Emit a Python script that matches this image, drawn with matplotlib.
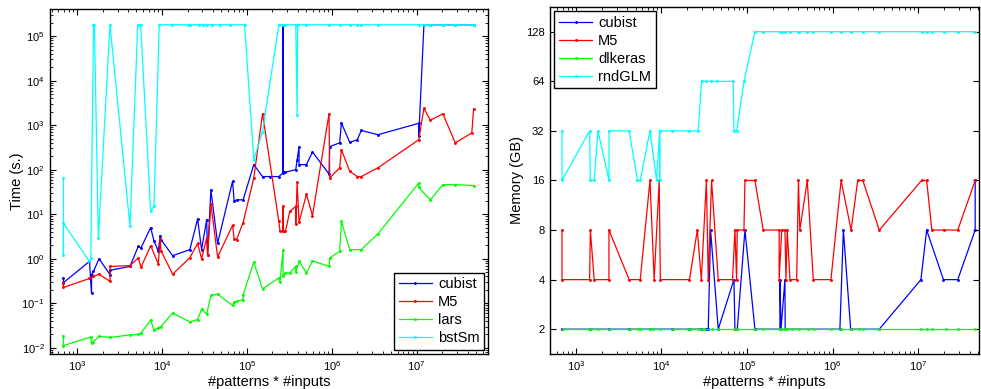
import matplotlib
matplotlib.use("Agg")
import matplotlib.pyplot as plt
from matplotlib.ticker import NullLocator, NullFormatter, FixedLocator, FixedFormatter

plt.rcParams['font.family'] = ['Liberation Sans', 'DejaVu Sans']

# ---- left panel: training time (s.) vs #patterns * #inputs ----
cub_t_x = [690, 690, 1400, 1480, 1480, 1560, 1815, 2440, 2440, 4200,
           5260, 5660, 7360, 8050, 9040, 9550, 9730, 13360, 21300, 26300,
           29300, 33600, 34500, 37700, 45200, 67900, 70900, 75700, 90400, 120700,
           153000, 186000, 238000, 267000, 267000, 267000, 285000, 377000, 391000, 412000,
           412000, 504000, 593000, 929000, 947000, 1.24e6, 1.30e6, 1.63e6, 2.0e6, 2.23e6,
           3.5e6, 1.06e7, 1.06e7, 1.22e7, 1.45e7, 2.04e7, 2.85e7, 4.69e7]
cub_t_y = [0.37, 0.29, 0.87, 0.17, 0.44, 0.52, 1.0, 0.44, 0.55, 0.67,
           1.9, 1.75, 5.0, 2.5, 1.5, 3.3, 2.7, 1.17, 1.6, 7.8,
           1.6, 7.5, 1.2, 35, 2.2, 55, 19.5, 21, 21, 130,
           70, 70, 70, 85, 1.8e5, 90, 88, 100, 167, 320,
           130, 130, 250, 80, 330, 400, 1120, 410, 470, 760,
           610, 1100, 560, 1.8e5, 1.8e5, 1.8e5, 1.8e5, 1.8e5]

m5_t_x = [690, 690, 1400, 1560, 1815, 2440, 2440, 4200, 5260, 5660,
          7360, 9040, 9550, 9730, 13360, 21300, 26300, 29300, 33600, 34500,
          37700, 45200, 67900, 70900, 75700, 90400, 120700, 153000, 238000, 246000,
          267000, 267000, 267000, 285000, 320000, 377000, 377000, 391000, 412000, 504000,
          593000, 929000, 947000, 1.24e6, 1.30e6, 1.63e6, 2.0e6, 2.23e6, 3.5e6, 1.06e7,
          1.22e7, 1.45e7, 2.04e7, 2.85e7, 4.47e7, 4.69e7]
m5_t_y = [0.29, 0.226, 0.36, 0.4, 0.45, 0.31, 0.67, 0.70, 1.04, 0.64,
          1.96, 0.77, 2.77, 1.5, 0.45, 1.05, 2.2, 1.0, 2.9, 1.2,
          17, 1.1, 5.6, 2.8, 2.7, 6.5, 65, 1800, 6.9, 4.1,
          4.1, 15, 4.1, 4.1, 11.5, 15, 6.1, 52, 6.6, 28,
          9.3, 1800, 65, 110, 280, 92, 70, 70, 110, 470,
          2400, 1290, 1800, 400, 670, 2300]

lars_x = [690, 690, 1450, 1480, 1560, 1815, 2440, 4200, 5260, 5660,
          7360, 8050, 9040, 9730, 13360, 21300, 26300, 29300, 33600, 37700,
          45200, 67900, 70900, 75700, 90400, 90400, 120700, 153000, 238000, 246000,
          267000, 267000, 285000, 320000, 377000, 377000, 412000, 504000, 593000, 929000,
          947000, 1.24e6, 1.30e6, 1.63e6, 2.23e6, 3.5e6, 1.06e7, 1.06e7, 1.45e7, 2.04e7,
          2.85e7, 4.69e7]
lars_y = [0.018, 0.0112, 0.0174, 0.0125, 0.0138, 0.018, 0.017, 0.0195, 0.0199, 0.0215,
          0.042, 0.025, 0.028, 0.030, 0.060, 0.038, 0.043, 0.074, 0.057, 0.15,
          0.16, 0.089, 0.106, 0.11, 0.12, 0.155, 0.84, 0.21, 0.37, 0.3,
          1.6, 0.4, 0.48, 0.48, 0.67, 0.5, 0.87, 0.48, 0.9, 0.67,
          1.04, 1.46, 6.9, 1.6, 1.6, 3.6, 50, 40, 21, 46,
          46, 44]

bst_x = [690, 690, 690, 1400, 1450, 1560, 1600, 1780, 2440, 4200,
         5180, 5610, 7360, 8050, 9290, 13100, 20400, 21600, 27300, 30600,
         34000, 38700, 48000, 63000, 94000, 120700, 153000, 238000, 267000, 285000,
         377000, 391000, 396000, 504000, 929000, 1.24e6, 1.63e6, 2.0e6, 2.23e6, 3.5e6,
         1.06e7, 1.22e7, 1.45e7, 2.04e7, 2.85e7, 4.69e7]
bst_y = [65, 1.23, 6.3, 0.87, 1.04, 1.8e5, 1.8e5, 2.9, 1.8e5, 5.3,
         1.8e5, 1.8e5, 11.5, 15.5, 1.8e5, 1.8e5, 1.8e5, 1.8e5, 1.8e5, 1.8e5,
         1.8e5, 1.8e5, 1.8e5, 1.8e5, 1.8e5, 167, 720, 1.8e5, 1.8e5, 1.8e5,
         1.8e5, 1700, 1.8e5, 1.8e5, 1.8e5, 1.8e5, 1.8e5, 1.8e5, 1.8e5, 1.8e5,
         1.8e5, 1.8e5, 1.8e5, 1.8e5, 1.8e5, 1.8e5]

# ---- right panel: memory (GB) vs #patterns * #inputs ----
cub_m_x = [690, 1450, 2440, 4200, 7360, 13360, 21300, 29300, 33600, 35300,
           37600, 46200, 70500, 72400, 77100, 94800, 124000, 243000, 243000, 250000,
           278000, 280000, 1.22e6, 1.34e6, 1.63e6, 3.52e6, 1.08e7, 1.26e7, 1.98e7, 2.91e7,
           4.65e7, 4.65e7]
cub_m_y = [2, 2, 2, 2, 2, 2, 2, 2, 2, 2,
           8, 2, 4, 2, 2, 8, 2, 2, 4, 2,
           4, 2, 2, 8, 2, 2, 4, 8, 4, 4,
           8, 16]

m5_m_x = [690, 690, 1450, 1480, 1640, 2440, 2440, 4200, 5660, 7360,
          8240, 9430, 9730, 21300, 26300, 29300, 33600, 35300, 38600, 46200,
          67900, 72400, 75700, 77100, 92300, 94800, 124000, 155000, 238000, 238000,
          255000, 278000, 286000, 296000, 318000, 381000, 400000, 415000, 507000, 596000,
          959000, 1.26e6, 1.65e6, 1.97e6, 2.26e6, 3.52e6, 1.10e7, 1.26e7, 1.45e7, 2.03e7,
          2.91e7, 4.65e7]
m5_m_y = [8, 4, 4, 8, 4, 4, 8, 4, 4, 16,
          4, 16, 4, 4, 8, 4, 16, 4, 16, 4,
          4, 8, 4, 8, 8, 16, 16, 8, 8, 4,
          8, 8, 4, 8, 4, 4, 16, 8, 16, 4,
          4, 16, 8, 16, 16, 8, 16, 16, 8, 8,
          8, 16]

dlk_x = [710, 1430, 1500, 1820, 2500, 4280, 5310, 5760, 7330, 7940,
         9600, 13600, 20400, 22200, 26900, 29500, 31600, 38600, 45600, 72400,
         75800, 120000, 155000, 243000, 255000, 278000, 296000, 336000, 409000, 516000,
         600000, 959000, 1.26e6, 1.65e6, 2.03e6, 2.26e6, 3.52e6, 1.08e7, 1.26e7, 1.45e7,
         2.1e7, 2.95e7, 4.65e7]
dlk_y = [2, 2, 2, 2, 2, 2, 2, 2, 2, 2,
         2, 2, 2, 2, 2, 2, 2, 2, 2, 2,
         2, 2, 2, 2, 2, 2, 2, 2, 2, 2,
         2, 2, 2, 2, 2, 2, 2, 2, 2, 2,
         2, 2, 2]

rnd_x = [690, 690, 1450, 1480, 1640, 1815, 2440, 2440, 4200, 5260,
         5660, 7360, 8790, 9550, 9550, 9550, 13360, 21300, 26900, 29500,
         33600, 37700, 45200, 69200, 70500, 75800, 92300, 124000, 153000, 243000,
         255000, 278000, 320000, 390000, 409000, 507000, 596000, 959000, 1.26e6, 1.65e6,
         2.26e6, 3.52e6, 1.1e7, 1.26e7, 1.45e7, 2.03e7, 2.91e7, 4.65e7]
rnd_y = [32, 16, 32, 16, 16, 32, 16, 32, 32, 16,
         16, 32, 16, 32, 16, 32, 32, 32, 32, 64,
         64, 64, 64, 64, 32, 32, 64, 128, 128, 128,
         128, 128, 128, 128, 128, 128, 128, 128, 128, 128,
         128, 128, 128, 128, 128, 128, 128, 128]

mem_ticks = [2, 4, 8, 16, 32, 64, 128]

fig = plt.figure(figsize=(9.81, 3.89), dpi=100)
ax1 = fig.add_axes([0.051, 0.090, 0.4468, 0.8870])
ax2 = fig.add_axes([0.5607, 0.090, 0.4376, 0.8921])

style = dict(marker='.', markersize=2.2, linewidth=0.9)
blue, red, green, cyan = '#0000ff', '#ff0000', '#00ff00', '#00ffff'

ax1.plot(cub_t_x, cub_t_y, color=blue, label='cubist', **style)
ax1.plot(m5_t_x, m5_t_y, color=red, label='M5', **style)
ax1.plot(lars_x, lars_y, color=green, label='lars', **style)
ax1.plot(bst_x, bst_y, color=cyan, label='bstSm', **style)
ax1.set_xscale('log')
ax1.set_yscale('log')
ax1.set_xlim(480, 7e7)
ax1.set_ylim(10 ** -2.14, 10 ** 5.61)
ax1.set_xlabel('#patterns * #inputs', fontsize=10.5, labelpad=1)
ax1.set_ylabel('Time (s.)', fontsize=10.5, labelpad=-2)

ax2.plot(cub_m_x, cub_m_y, color=blue, label='cubist', **style)
ax2.plot(m5_m_x, m5_m_y, color=red, label='M5', **style)
ax2.plot(dlk_x, dlk_y, color=green, label='dlkeras', **style)
ax2.plot(rnd_x, rnd_y, color=cyan, label='rndGLM', **style)
ax2.set_xscale('log')
ax2.set_yscale('log', base=2)
ax2.set_xlim(500, 5.2e7)
ax2.set_ylim(2 ** 0.5, 2 ** 7.5)
ax2.yaxis.set_major_locator(FixedLocator(mem_ticks))
ax2.yaxis.set_major_formatter(FixedFormatter([str(t) for t in mem_ticks]))
ax2.yaxis.set_minor_locator(NullLocator())
ax2.set_xlabel('#patterns * #inputs', fontsize=10.5, labelpad=1)
ax2.set_ylabel('Memory (GB)', fontsize=10.5, labelpad=1)

for ax in (ax1, ax2):
    ax.xaxis.set_minor_formatter(NullFormatter())
    ax.tick_params(which='both', direction='in', top=True, right=True, labelsize=8, pad=4)
    ax.tick_params(which='major', length=4, width=0.8)
    ax.tick_params(which='minor', length=2, width=0.6)
    for s in ax.spines.values():
        s.set_linewidth(1.0)
ax1.yaxis.set_minor_formatter(NullFormatter())

leg_kw = dict(fontsize=10.5, fancybox=False, edgecolor='black', framealpha=1,
              handlelength=2.3, handletextpad=0.4, labelspacing=0.28,
              borderpad=0.3, borderaxespad=0.3)
l1 = ax1.legend(loc='lower right', **leg_kw)
l2 = ax2.legend(loc='upper left', **leg_kw)
for l in (l1, l2):
    l.get_frame().set_linewidth(1.0)

fig.savefig('out.png', dpi=100)
